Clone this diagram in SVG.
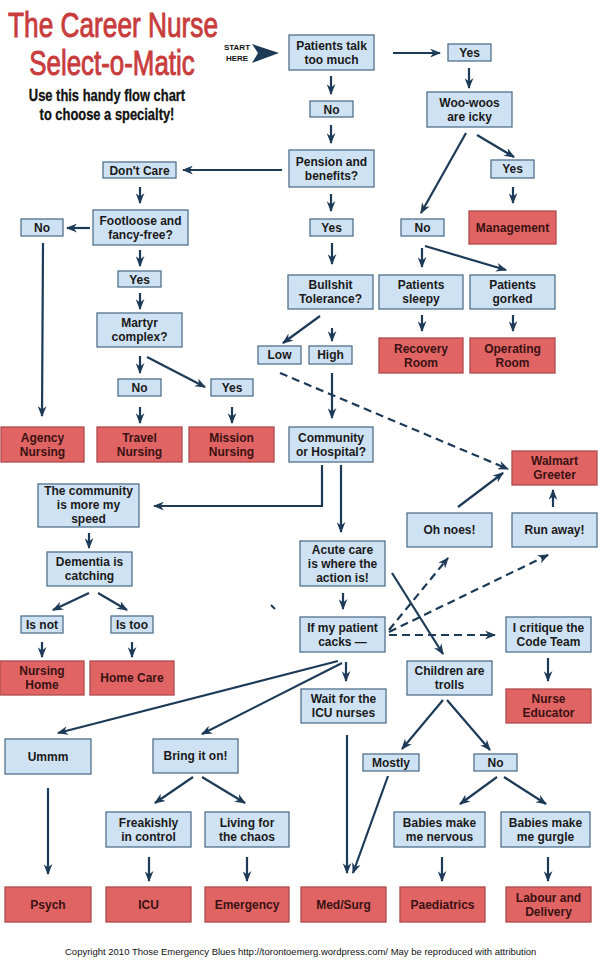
<svg xmlns="http://www.w3.org/2000/svg" width="603" height="960" viewBox="0 0 603 960">
<style>
.b{fill:#cfe2f3;stroke:#52708e;stroke-width:1.3}
.r{fill:#e06464;stroke:#b04a4a;stroke-width:1.3}
text{font-family:"Liberation Sans",Arial,sans-serif}
.t{font-weight:bold;font-size:12px;text-anchor:middle;fill:#1a1a1a}
.tr{fill:#3a1212}
.c{stroke:#1d3a57;stroke-width:2.2;fill:none;marker-end:url(#a)}
.d{stroke-dasharray:8 5}
.title{font-size:35px;fill:#c83c3c;stroke:#c83c3c;stroke-width:0.9;text-anchor:middle}
.sub{font-size:17px;font-weight:bold;fill:#111;stroke:#111;stroke-width:0.3;text-anchor:middle}
</style>
<defs>
<marker id="a" viewBox="0 0 10 8" markerWidth="11" markerHeight="9" refX="9" refY="4" orient="auto" markerUnits="userSpaceOnUse">
<path d="M0,0 L10,4 L0,8 L3,4 Z" fill="#1d3a57"/>
</marker>
</defs>
<rect width="603" height="960" fill="#fff"/>
<g id="title">
<text class="title" transform="translate(113,37) scale(0.75,1)" x="0" y="0">The Career Nurse</text>
<text class="title" transform="translate(112,75) scale(0.74,1)" x="0" y="0">Select-o-Matic</text>
<text class="sub" transform="translate(107,101) scale(0.76,1)" x="0" y="0">Use this handy flow chart</text>
<text class="sub" transform="translate(107,120) scale(0.76,1)" x="0" y="0">to choose a specialty!</text>
</g>
<g id="start">
<text x="237" y="50" font-size="8" font-weight="bold" text-anchor="middle" fill="#111">START</text>
<text x="237" y="61" font-size="8" font-weight="bold" text-anchor="middle" fill="#111">HERE</text>
<polygon points="252,44 279,53 252,63 258,53" fill="#1d3a57"/>
</g>
<g id="connectors">
<path class="c" d="M393,53 L440,53"/>
<path class="c" d="M331,76 L331,94"/>
<path class="c" d="M331,125 L331,143"/>
<path class="c" d="M331,194 L331,211"/>
<path class="c" d="M282,170 L183,170"/>
<path class="c" d="M469,68 L469,88"/>
<path class="c" d="M477,135 L514,157"/>
<path class="c" d="M466,133 L421,213"/>
<path class="c" d="M513,187 L513,203"/>
<path class="c" d="M140,187 L140,203"/>
<path class="c" d="M90,228 L67,228"/>
<path class="c" d="M140,250 L140,266"/>
<path class="c" d="M140,293 L140,309"/>
<path class="c" d="M140,356 L140,373"/>
<path class="c" d="M147,357 L205,387"/>
<path class="c" d="M43,243 L42,416"/>
<path class="c" d="M140,407 L140,423"/>
<path class="c" d="M232,407 L232,423"/>
<path class="c" d="M332,243 L332,264"/>
<path class="c" d="M422,248 L422,267"/>
<path class="c" d="M425,246 L506,270"/>
<path class="c" d="M422,315 L422,331"/>
<path class="c" d="M513,315 L513,331"/>
<path class="c" d="M320,316 L283,343"/>
<path class="c" d="M332,328 L332,341"/>
<path class="c" d="M332,373 L332,418"/>
<path class="c d" d="M280,373 L508,469"/>
<path class="c" d="M322,465 L322,506 L154,506"/>
<path class="c" d="M341,465 L341,532"/>
<path class="c" d="M343,593 L343,609"/>
<path class="c" d="M392,573 L443,654"/>
<path class="c d" d="M389,630 L448,558"/>
<path class="c d" d="M389,632 L548,555"/>
<path class="c d" d="M389,635 L495,635"/>
<path class="c" d="M458,507 L503,473"/>
<path class="c" d="M553,507 L553,490"/>
<path class="c" d="M548,658 L548,681"/>
<path class="c" d="M346,662 L346,681"/>
<path class="c" d="M338,661 L58,733"/>
<path class="c" d="M342,663 L202,734"/>
<path class="c" d="M347,735 L347,873"/>
<path class="c" d="M443,700 L402,749"/>
<path class="c" d="M447,700 L490,750"/>
<path class="c" d="M388,776 L353,873"/>
<path class="c" d="M497,777 L460,804"/>
<path class="c" d="M504,777 L546,804"/>
<path class="c" d="M193,777 L155,803"/>
<path class="c" d="M202,777 L245,803"/>
<path class="c" d="M48,788 L48,874"/>
<path class="c" d="M149,857 L149,881"/>
<path class="c" d="M247,857 L247,881"/>
<path class="c" d="M442,857 L442,881"/>
<path class="c" d="M548,857 L548,881"/>
<path class="c" d="M89,593 L53,610"/>
<path class="c" d="M98,593 L127,610"/>
<path class="c" d="M89,533 L89,548"/>
<path class="c" d="M42,642 L42,657"/>
<path class="c" d="M132,642 L132,657"/>
<path d="M271,605 L275,609" stroke="#1d3a57" stroke-width="2"/>
</g>
<g id="talk"><rect class="b" x="289" y="35" width="85" height="35"/><text class="t" x="331.5" y="49.5">Patients talk</text><text class="t" x="331.5" y="63.5">too much</text></g>
<g id="yes1"><rect class="b" x="448" y="44" width="43" height="17"/><text class="t" x="469.5" y="56.5">Yes</text></g>
<g id="no1"><rect class="b" x="310" y="101" width="43" height="16"/><text class="t" x="331.5" y="113.5">No</text></g>
<g id="pension"><rect class="b" x="289" y="150" width="85" height="37"/><text class="t" x="331.5" y="165.5">Pension and</text><text class="t" x="331.5" y="179.5">benefits?</text></g>
<g id="yes2"><rect class="b" x="310" y="219" width="43" height="17"/><text class="t" x="331.5" y="231.5">Yes</text></g>
<g id="woo"><rect class="b" x="427" y="92" width="85" height="35"/><text class="t" x="469.5" y="106.5">Woo-woos</text><text class="t" x="469.5" y="120.5">are icky</text></g>
<g id="yes3"><rect class="b" x="491" y="160" width="43" height="18"/><text class="t" x="512.5" y="173">Yes</text></g>
<g id="no2"><rect class="b" x="401" y="219" width="43" height="17"/><text class="t" x="422.5" y="231.5">No</text></g>
<g id="management"><rect class="r" x="469" y="211" width="87" height="33"/><text class="t tr" x="512.5" y="231.5">Management</text></g>
<g id="dontcare"><rect class="b" x="103" y="162" width="73" height="16"/><text class="t" x="139.5" y="174.5">Don't Care</text></g>
<g id="footloose"><rect class="b" x="93" y="210" width="95" height="35"/><text class="t" x="140.5" y="224.5">Footloose and</text><text class="t" x="140.5" y="238.5">fancy-free?</text></g>
<g id="no3"><rect class="b" x="21" y="219" width="42" height="17"/><text class="t" x="42" y="231.5">No</text></g>
<g id="yes4"><rect class="b" x="118" y="271" width="43" height="16"/><text class="t" x="139.5" y="283.5">Yes</text></g>
<g id="martyr"><rect class="b" x="97" y="313" width="85" height="34"/><text class="t" x="139.5" y="327">Martyr</text><text class="t" x="139.5" y="341">complex?</text></g>
<g id="no4"><rect class="b" x="118" y="379" width="43" height="17"/><text class="t" x="139.5" y="391.5">No</text></g>
<g id="yes5"><rect class="b" x="211" y="379" width="42" height="17"/><text class="t" x="232" y="391.5">Yes</text></g>
<g id="agency"><rect class="r" x="1" y="427" width="83" height="35"/><text class="t tr" x="42.5" y="441.5">Agency</text><text class="t tr" x="42.5" y="455.5">Nursing</text></g>
<g id="travel"><rect class="r" x="97" y="427" width="85" height="35"/><text class="t tr" x="139.5" y="441.5">Travel</text><text class="t tr" x="139.5" y="455.5">Nursing</text></g>
<g id="mission"><rect class="r" x="189" y="427" width="85" height="35"/><text class="t tr" x="231.5" y="441.5">Mission</text><text class="t tr" x="231.5" y="455.5">Nursing</text></g>
<g id="bullshit"><rect class="b" x="288" y="275" width="85" height="34"/><text class="t" x="330.5" y="289">Bullshit</text><text class="t" x="330.5" y="303">Tolerance?</text></g>
<g id="sleepy"><rect class="b" x="379" y="275" width="84" height="34"/><text class="t" x="421" y="289">Patients</text><text class="t" x="421" y="303">sleepy</text></g>
<g id="gorked"><rect class="b" x="470" y="275" width="85" height="34"/><text class="t" x="512.5" y="289">Patients</text><text class="t" x="512.5" y="303">gorked</text></g>
<g id="recovery"><rect class="r" x="379" y="338" width="84" height="35"/><text class="t tr" x="421" y="352.5">Recovery</text><text class="t tr" x="421" y="366.5">Room</text></g>
<g id="operating"><rect class="r" x="470" y="338" width="85" height="35"/><text class="t tr" x="512.5" y="352.5">Operating</text><text class="t tr" x="512.5" y="366.5">Room</text></g>
<g id="low"><rect class="b" x="258" y="346" width="43" height="18"/><text class="t" x="279.5" y="359">Low</text></g>
<g id="high"><rect class="b" x="309" y="346" width="43" height="18"/><text class="t" x="330.5" y="359">High</text></g>
<g id="commhosp"><rect class="b" x="289" y="427" width="84" height="35"/><text class="t" x="331" y="441.5">Community</text><text class="t" x="331" y="455.5">or Hospital?</text></g>
<g id="walmart"><rect class="r" x="512" y="451" width="85" height="34"/><text class="t tr" x="554.5" y="465">Walmart</text><text class="t tr" x="554.5" y="479">Greeter</text></g>
<g id="community"><rect class="b" x="38" y="484" width="101" height="43"/><text class="t" x="88.5" y="495">The community</text><text class="t" x="88.5" y="509">is more my</text><text class="t" x="88.5" y="523">speed</text></g>
<g id="dementia"><rect class="b" x="47" y="552" width="85" height="34"/><text class="t" x="89.5" y="566">Dementia is</text><text class="t" x="89.5" y="580">catching</text></g>
<g id="isnot"><rect class="b" x="21" y="616" width="42" height="17"/><text class="t" x="42" y="628.5">Is not</text></g>
<g id="istoo"><rect class="b" x="111" y="616" width="42" height="17"/><text class="t" x="132" y="628.5">Is too</text></g>
<g id="nursinghome"><rect class="r" x="0" y="661" width="84" height="34"/><text class="t tr" x="42" y="675">Nursing</text><text class="t tr" x="42" y="689">Home</text></g>
<g id="homecare"><rect class="r" x="90" y="661" width="84" height="34"/><text class="t tr" x="132" y="682">Home Care</text></g>
<g id="acute"><rect class="b" x="300" y="541" width="85" height="45"/><text class="t" x="342.5" y="553.5">Acute care</text><text class="t" x="342.5" y="567.5">is where the</text><text class="t" x="342.5" y="581.5">action is!</text></g>
<g id="cacks"><rect class="b" x="300" y="617" width="85" height="35"/><text class="t" x="342.5" y="631.5">If my patient</text><text class="t" x="342.5" y="645.5">cacks —</text></g>
<g id="ohnoes"><rect class="b" x="407" y="513" width="85" height="34"/><text class="t" x="449.5" y="534">Oh noes!</text></g>
<g id="runaway"><rect class="b" x="512" y="513" width="85" height="34"/><text class="t" x="554.5" y="534">Run away!</text></g>
<g id="critique"><rect class="b" x="506" y="617" width="85" height="35"/><text class="t" x="548.5" y="631.5">I critique the</text><text class="t" x="548.5" y="645.5">Code Team</text></g>
<g id="educator"><rect class="r" x="506" y="689" width="85" height="34"/><text class="t tr" x="548.5" y="703">Nurse</text><text class="t tr" x="548.5" y="717">Educator</text></g>
<g id="children"><rect class="b" x="407" y="661" width="85" height="34"/><text class="t" x="449.5" y="675">Children are</text><text class="t" x="449.5" y="689">trolls</text></g>
<g id="wait"><rect class="b" x="301" y="689" width="85" height="34"/><text class="t" x="343.5" y="703">Wait for the</text><text class="t" x="343.5" y="717">ICU nurses</text></g>
<g id="ummm"><rect class="b" x="5" y="739" width="86" height="35"/><text class="t" x="48" y="760.5">Ummm</text></g>
<g id="bring"><rect class="b" x="153" y="739" width="85" height="34"/><text class="t" x="195.5" y="760">Bring it on!</text></g>
<g id="freak"><rect class="b" x="106" y="812" width="85" height="35"/><text class="t" x="148.5" y="826.5">Freakishly</text><text class="t" x="148.5" y="840.5">in control</text></g>
<g id="living"><rect class="b" x="205" y="812" width="84" height="35"/><text class="t" x="247" y="826.5">Living for</text><text class="t" x="247" y="840.5">the chaos</text></g>
<g id="psych"><rect class="r" x="5" y="887" width="86" height="35"/><text class="t tr" x="48" y="908.5">Psych</text></g>
<g id="icu"><rect class="r" x="106" y="887" width="85" height="35"/><text class="t tr" x="148.5" y="908.5">ICU</text></g>
<g id="emergency"><rect class="r" x="205" y="887" width="84" height="35"/><text class="t tr" x="247" y="908.5">Emergency</text></g>
<g id="medsurg"><rect class="r" x="301" y="887" width="85" height="35"/><text class="t tr" x="343.5" y="908.5">Med/Surg</text></g>
<g id="mostly"><rect class="b" x="363" y="754" width="56" height="17"/><text class="t" x="391" y="766.5">Mostly</text></g>
<g id="no5"><rect class="b" x="474" y="754" width="43" height="17"/><text class="t" x="495.5" y="766.5">No</text></g>
<g id="nervous"><rect class="b" x="394" y="812" width="91" height="35"/><text class="t" x="439.5" y="826.5">Babies make</text><text class="t" x="439.5" y="840.5">me nervous</text></g>
<g id="gurgle"><rect class="b" x="501" y="812" width="89" height="35"/><text class="t" x="545.5" y="826.5">Babies make</text><text class="t" x="545.5" y="840.5">me gurgle</text></g>
<g id="paed"><rect class="r" x="400" y="887" width="85" height="35"/><text class="t tr" x="442.5" y="908.5">Paediatrics</text></g>
<g id="labour"><rect class="r" x="506" y="887" width="85" height="35"/><text class="t tr" x="548.5" y="901.5">Labour and</text><text class="t tr" x="548.5" y="915.5">Delivery</text></g>
<g id="copyright"><text x="65" y="955" font-size="9.5" fill="#111">Copyright 2010 Those Emergency Blues http://torontoemerg.wordpress.com/ May be reproduced with attribution</text></g>
</svg>
